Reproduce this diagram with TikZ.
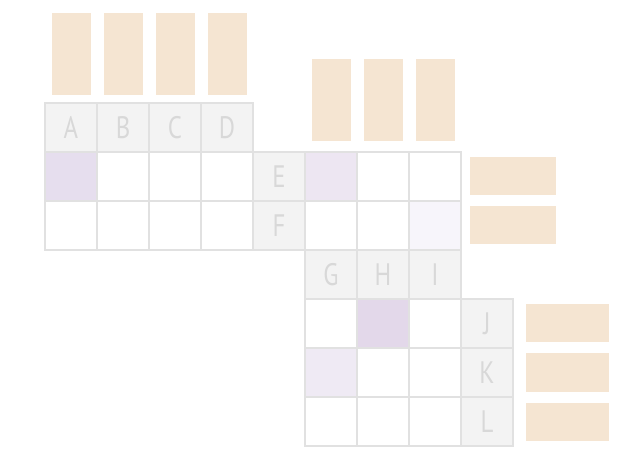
\documentclass[tikz,border=0pt]{standalone}
\usepackage{fontspec}
\setsansfont{PT Sans}
\usepackage{tikz}
\usetikzlibrary{positioning}
\definecolor{gridline}{HTML}{E1E1E1}
\definecolor{headfill}{HTML}{F3F3F3}
\definecolor{labelgray}{HTML}{D8D8D8}
\definecolor{barfill}{HTML}{F5E5D2}
\definecolor{pickA}{HTML}{E6DEEE}
\definecolor{pickB}{HTML}{EDE6F2}
\definecolor{pickC}{HTML}{F7F5FB}
\definecolor{pickD}{HTML}{E3D8EA}
\definecolor{pickE}{HTML}{EFEAF4}
\newcommand{\slim}[1]{\scalebox{0.8}[1]{#1}}

\begin{document}
\begin{tikzpicture}[x=1pt,y=-1pt,line width=2pt,
  cell/.style={draw=gridline,fill=white,minimum width=52pt,minimum height=49pt,
    inner sep=0pt,outer sep=0pt,anchor=north west},
  head/.style={cell,fill=headfill,text=labelgray,
    font=\sffamily\fontsize{31pt}{31pt}\selectfont},
  tallbar/.style={fill=barfill,minimum width=39pt,minimum height=82pt,inner sep=0pt,outer sep=0pt},
  widebar/.style={fill=barfill,minimum height=38pt,inner sep=0pt,outer sep=0pt}]
  \useasboundingbox (0,0) rectangle (640,462);
  % first block
  \foreach \l [count=\i from 0] in {A,B,C,D}
    \node[head] (h\l) at (45+52*\i,103) {\slim{\l}};
  \foreach \r in {1,2} \foreach \c in {0,1,2,3,5,6,7}
    \node[cell] (c\r\c) at (45+52*\c,103+49*\r) {};
  \node[head] (hE) at (253,152) {\slim{E}};
  \node[head] (hF) at (253,201) {\slim{F}};
  % second block
  \foreach \l [count=\i from 5] in {G,H,I}
    \node[head] (h\l) at (45+52*\i,250) {\slim{\l}};
  \foreach \r in {4,5,6} \foreach \c in {5,6,7}
    \node[cell] (c\r\c) at (45+52*\c,103+49*\r) {};
  \foreach \l [count=\r from 4] in {J,K,L}
    \node[head] (h\l) at (461,103+49*\r) {\slim{\l}};
  % highlighted cells
  \node[cell,fill=pickA] (pA) at (45,152) {};
  \node[cell,fill=pickB] (pB) at (305,152) {};
  \node[cell,fill=pickC] (pC) at (409,201) {};
  \node[cell,fill=pickD] (pD) at (357,299) {};
  \node[cell,fill=pickE] (pE) at (305,348) {};
  % bars
  \foreach \l in {A,B,C,D}
    \node[tallbar,above=8pt of h\l] (t\l) {};
  \node[tallbar,above=11pt of pB] (tG) {};
  \node[tallbar,above=11pt of c16] (tH) {};
  \node[tallbar,above=11pt of c17] (tI) {};
  \node[widebar,minimum width=86pt,right=9pt of c17] (sE) {};
  \node[widebar,minimum width=86pt,right=9pt of pC] (sF) {};
  \foreach \l in {J,K,L}
    \node[widebar,minimum width=83pt,right=13pt of h\l] (s\l) {};
\end{tikzpicture}
\end{document}
